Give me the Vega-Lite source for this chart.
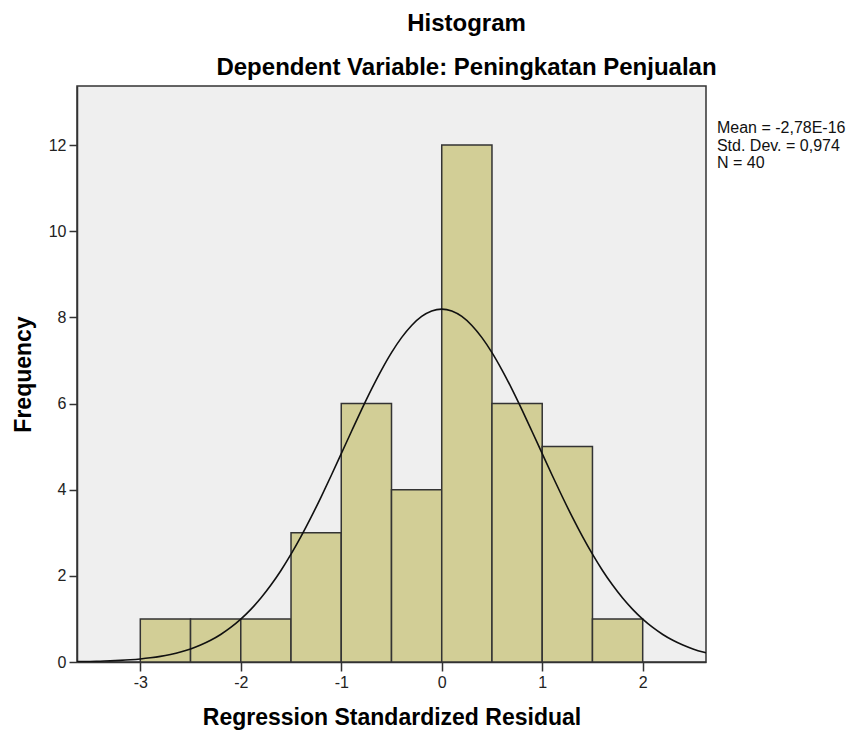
{
  "$schema": "https://vega.github.io/schema/vega-lite/v6.json",
  "width": 629,
  "height": 576,
  "autosize": {"type": "none"},
  "padding": {"left": 77, "top": 86, "right": 146, "bottom": 73},
  "background": "white",
  "config": {
    "font": "Liberation Sans",
    "view": {"stroke": "#333333", "strokeWidth": 1.5, "fill": "#EFEFEF"},
    "axis": {"grid": false, "domainColor": "#333333", "tickColor": "#333333", "tickWidth": 1.5, "domainWidth": 1.5, "labelColor": "#222222", "titleColor": "#000000", "labelFont": "Liberation Sans", "titleFont": "Liberation Sans"}
  },
  "title": {
    "text": "Histogram",
    "subtitle": "Dependent Variable: Peningkatan Penjualan",
    "anchor": "middle",
    "dx": 75,
    "offset": 6,
    "font": "Liberation Sans",
    "fontSize": 24,
    "fontWeight": "bold",
    "color": "#000000",
    "subtitleFont": "Liberation Sans",
    "subtitleFontSize": 24,
    "subtitleFontWeight": "bold",
    "subtitleColor": "#000000",
    "subtitlePadding": 20
  },
  "datasets": {
    "bins": [
      {"bin_start": -3.0, "bin_end": -2.5, "count": 1},
      {"bin_start": -2.5, "bin_end": -2.0, "count": 1},
      {"bin_start": -2.0, "bin_end": -1.5, "count": 1},
      {"bin_start": -1.5, "bin_end": -1.0, "count": 3},
      {"bin_start": -1.0, "bin_end": -0.5, "count": 6},
      {"bin_start": -0.5, "bin_end": 0.0, "count": 4},
      {"bin_start": 0.0, "bin_end": 0.5, "count": 12},
      {"bin_start": 0.5, "bin_end": 1.0, "count": 6},
      {"bin_start": 1.0, "bin_end": 1.5, "count": 5},
      {"bin_start": 1.5, "bin_end": 2.0, "count": 1}
    ],
    "curve": [
      {"x": -3.63, "y": 0.0079}, {"x": -3.6, "y": 0.0088}, {"x": -3.5, "y": 0.0129}, {"x": -3.4, "y": 0.0185},
      {"x": -3.3, "y": 0.0264}, {"x": -3.2, "y": 0.0371}, {"x": -3.1, "y": 0.0518}, {"x": -3.0, "y": 0.0714},
      {"x": -2.9, "y": 0.0974}, {"x": -2.8, "y": 0.131}, {"x": -2.7, "y": 0.176}, {"x": -2.6, "y": 0.232},
      {"x": -2.5, "y": 0.304}, {"x": -2.4, "y": 0.394}, {"x": -2.3, "y": 0.504}, {"x": -2.2, "y": 0.639},
      {"x": -2.1, "y": 0.802}, {"x": -2.0, "y": 0.995}, {"x": -1.9, "y": 1.222}, {"x": -1.8, "y": 1.485},
      {"x": -1.7, "y": 1.786}, {"x": -1.6, "y": 2.125}, {"x": -1.5, "y": 2.503}, {"x": -1.4, "y": 2.916},
      {"x": -1.3, "y": 3.362}, {"x": -1.2, "y": 3.835}, {"x": -1.1, "y": 4.329}, {"x": -1.0, "y": 4.836},
      {"x": -0.9, "y": 5.345}, {"x": -0.8, "y": 5.847}, {"x": -0.7, "y": 6.328}, {"x": -0.6, "y": 6.776},
      {"x": -0.5, "y": 7.181}, {"x": -0.4, "y": 7.529}, {"x": -0.3, "y": 7.812}, {"x": -0.2, "y": 8.021},
      {"x": -0.1, "y": 8.149}, {"x": 0.0, "y": 8.192}, {"x": 0.1, "y": 8.149}, {"x": 0.2, "y": 8.021},
      {"x": 0.3, "y": 7.812}, {"x": 0.4, "y": 7.529}, {"x": 0.5, "y": 7.181}, {"x": 0.6, "y": 6.776},
      {"x": 0.7, "y": 6.328}, {"x": 0.8, "y": 5.847}, {"x": 0.9, "y": 5.345}, {"x": 1.0, "y": 4.836},
      {"x": 1.1, "y": 4.329}, {"x": 1.2, "y": 3.835}, {"x": 1.3, "y": 3.362}, {"x": 1.4, "y": 2.916},
      {"x": 1.5, "y": 2.503}, {"x": 1.6, "y": 2.125}, {"x": 1.7, "y": 1.786}, {"x": 1.8, "y": 1.485},
      {"x": 1.9, "y": 1.222}, {"x": 2.0, "y": 0.995}, {"x": 2.1, "y": 0.802}, {"x": 2.2, "y": 0.639},
      {"x": 2.3, "y": 0.504}, {"x": 2.4, "y": 0.394}, {"x": 2.5, "y": 0.304}, {"x": 2.6, "y": 0.232},
      {"x": 2.63, "y": 0.214}
    ],
    "stats": [
      {"label": "Mean = -2,78E-16", "xpos": 2.739, "ypos": 12.40},
      {"label": "Std. Dev. = 0,974", "xpos": 2.739, "ypos": 11.98},
      {"label": "N = 40", "xpos": 2.739, "ypos": 11.58}
    ]
  },
  "layer": [
    {
      "data": {"name": "bins"},
      "mark": {"type": "rect", "fill": "#D2CE96", "stroke": "#333333", "strokeWidth": 1.5},
      "encoding": {
        "x": {
          "field": "bin_start", "type": "quantitative",
          "scale": {"domain": [-3.63, 2.63], "nice": false, "zero": false},
          "axis": {
            "title": "Regression Standardized Residual",
            "values": [-3, -2, -1, 0, 1, 2],
            "labelExpr": "'' + datum.value",
            "labelFontSize": 16,
            "tickSize": 9,
            "labelPadding": 3,
            "titleFontSize": 23,
            "titleFontWeight": "bold",
            "titlePadding": 16
          }
        },
        "x2": {"field": "bin_end"},
        "y": {
          "field": "count", "type": "quantitative",
          "scale": {"domain": [0, 13.37], "nice": false},
          "axis": {
            "title": "Frequency",
            "values": [0, 2, 4, 6, 8, 10, 12],
            "labelFontSize": 16,
            "tickSize": 8,
            "labelPadding": 3,
            "titleFontSize": 23,
            "titleFontWeight": "bold",
            "titlePadding": 13
          }
        },
        "y2": {"datum": 0}
      }
    },
    {
      "data": {"name": "curve"},
      "mark": {"type": "line", "color": "#111111", "strokeWidth": 1.6, "interpolate": "monotone", "clip": true},
      "encoding": {
        "x": {"field": "x", "type": "quantitative"},
        "y": {"field": "y", "type": "quantitative"}
      }
    },
    {
      "data": {"name": "stats"},
      "mark": {"type": "text", "align": "left", "baseline": "middle", "fontSize": 16, "font": "Liberation Sans", "color": "#111111"},
      "encoding": {
        "x": {"field": "xpos", "type": "quantitative"},
        "y": {"field": "ypos", "type": "quantitative"},
        "text": {"field": "label"}
      }
    }
  ]
}
